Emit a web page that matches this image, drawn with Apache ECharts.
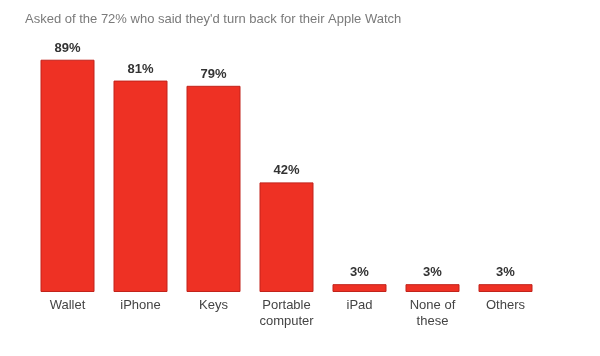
<!DOCTYPE html>
<html><head><meta charset="utf-8">
<script src="https://cdn.jsdelivr.net/npm/echarts@6/dist/echarts.min.js"></script>
<style>html,body{margin:0;padding:0;background:#fff}#c{width:600px;height:356px}</style>
</head><body><div id="c"></div>
<script>
const categories = ["Wallet", "iPhone", "Keys", "Portable\ncomputer", "iPad", "None of\nthese", "Others"];
const values = [89, 81, 79, 42, 3, 3, 3];
const titleText = "Asked of the 72% who said they'd turn back for their Apple Watch";

const chart = echarts.init(document.getElementById('c'));
chart.setOption({
  animation: false,
  backgroundColor: '#fff',
  title: {
    text: titleText, left: 20, top: 8,
    textStyle: { fontFamily: 'Liberation Sans, Arial', fontSize: 13, fontWeight: 'normal', color: '#7a7a7a' }
  },
  grid: { left: 31, right: 58, top: 31, bottom: 64 },
  xAxis: {
    type: 'category', data: categories,
    axisLine: { show: false }, axisTick: { show: false },
    axisLabel: { color: '#444', fontFamily: 'Liberation Sans, Arial', fontSize: 13, lineHeight: 16, margin: 5 }
  },
  yAxis: { type: 'value', min: 0, max: 100, show: false, splitLine: { show: false } },
  series: [{
    type: 'bar', data: values, barWidth: 54,
    itemStyle: { color: '#ee3124', borderColor: '#c2231b', borderWidth: 1 },
    label: {
      show: true, position: 'top', formatter: '{c}%', distance: 5,
      color: '#333', fontWeight: 'bold', fontFamily: 'Liberation Sans, Arial', fontSize: 13
    }
  }]
});
</script></body></html>
